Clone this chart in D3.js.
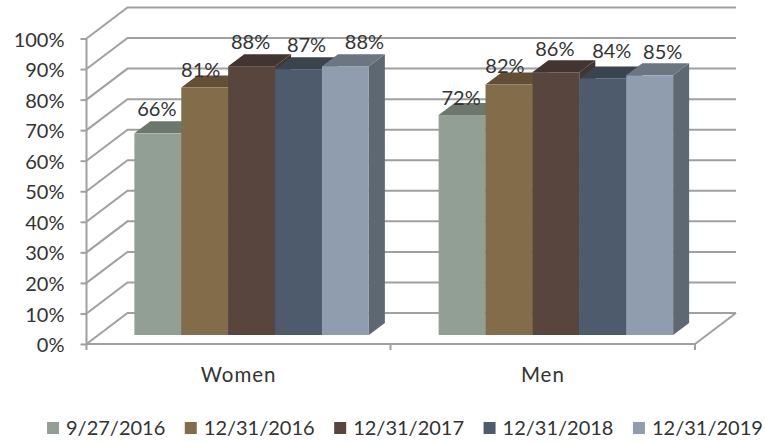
<!DOCTYPE html>
<html>
<head>
<meta charset="utf-8">
<script src="https://cdn.jsdelivr.net/npm/d3@7"></script>
<style>
  body { margin: 0; background: #fff; }
  text { font-family: Lato, "Noto Sans", sans-serif; fill: #333; }
  .tick-label { font-size: 20px; }
  .data-label { font-size: 20px; }
  .cat-label { font-size: 20.5px; letter-spacing: 1px; }
  .legend-label { font-size: 20px; }
</style>
</head>
<body>
<div id="chart-area"></div>
<script>
// values
let categories = ["Women", "Men"];
let dates = ["9/27/2016", "12/31/2016", "12/31/2017", "12/31/2018", "12/31/2019"];
let women = [0.66, 0.81, 0.88, 0.87, 0.88];
let men = [0.72, 0.82, 0.86, 0.84, 0.85];
let yTicks = [0, 0.1, 0.2, 0.3, 0.4, 0.5, 0.6, 0.7, 0.8, 0.9, 1];

let front = ["#929f94", "#836c4a", "#58463e", "#4d5b6c", "#909daf"];
let top_ = ["#6d776e", "#624f35", "#423430", "#39444f", "#6c7683"];
let side = ["#6d776e", "#624f35", "#423430", "#39444f", "#5d6873"];

// labels in the original sit off centre, [dx, dy] from the top middle of each bar
let womenNudge = [[-1, -17], [-4, -11], [-1, -17], [8, -17], [19, -17]];
let menNudge = [[-1, -10], [-4, -11], [-1, -16], [9, -20], [13, -16]];

let svg = d3.select("#chart-area").append("svg")
    .attr("width", 765)
    .attr("height", 442);

let grey = "#a0a0a0";

// fake 3d: the wall sits behind the axis plane, the bars between the two
let wall = {dx: 41, dy: -31};
let barPlane = {dx: 13, dy: -9};
let barDepth = {dx: 16, dy: -12};

let x = d3.scaleBand().domain(categories).range([86.5, 695]);
let y = d3.scaleLinear().domain([0, 1]).range([344, 38.5]);
let xInner = d3.scaleBand().domain(dates).range([0, 234.5]);

// Walls and grid
let gridG = svg.append("g").attr("fill", "none").attr("stroke", grey).attr("stroke-width", 2);

yTicks.forEach(t => {
    gridG.append("path")
        .attr("d", "M86.5," + y(t) + "L" + (86.5 + wall.dx) + "," + (y(t) + wall.dy)
            + "H" + (695 + wall.dx));
});
gridG.append("path")
    .attr("d", "M695," + y(0) + "L" + (695 + wall.dx) + "," + (y(0) + wall.dy));

// Bars
[women, men].forEach((vals, c) => {
    let g = svg.append("g");
    let offset = x(categories[c]) + (x.bandwidth() - xInner.range()[1]) / 2 + barPlane.dx;
    let w = xInner.bandwidth();
    let nudge = c === 0 ? womenNudge : menNudge;

    vals.forEach((v, i) => {
        let x0 = offset + xInner(dates[i]);
        let y0 = y(0) + barPlane.dy;
        let yTop = y(v) + barPlane.dy;

        // right side
        g.append("path")
            .attr("fill", side[i])
            .attr("d", "M" + (x0 + w) + "," + yTop
                + "l" + barDepth.dx + "," + barDepth.dy
                + "V" + (y0 + barDepth.dy)
                + "L" + (x0 + w) + "," + y0 + "Z");
        // top
        g.append("path")
            .attr("fill", top_[i])
            .attr("d", "M" + x0 + "," + yTop
                + "l" + barDepth.dx + "," + barDepth.dy
                + "h" + w
                + "l" + (-barDepth.dx) + "," + (-barDepth.dy) + "Z");
        // front
        g.append("rect")
            .attr("x", x0)
            .attr("y", yTop)
            .attr("width", w)
            .attr("height", y0 - yTop)
            .attr("fill", front[i]);
    });

    // labels go on after all the bars of the group
    vals.forEach((v, i) => {
        g.append("text")
            .attr("class", "data-label")
            .attr("x", offset + xInner(dates[i]) + w / 2 + nudge[i][0])
            .attr("y", y(v) + barPlane.dy + nudge[i][1])
            .attr("text-anchor", "middle")
            .text(d3.format(".0%")(v));
    });
});

// Axes
let yAxis = d3.axisLeft(y).tickValues(yTicks).tickFormat(d3.format(".0%")).tickSize(6).tickPadding(16);
let xAxis = d3.axisBottom(x).tickSize(0).tickPadding(23);

let yG = svg.append("g").attr("transform", "translate(86.5,0)").call(yAxis);
let xG = svg.append("g").attr("transform", "translate(0," + y(0) + ")").call(xAxis);

yG.selectAll(".tick text").attr("class", "tick-label").attr("dy", "0.38em");
xG.selectAll(".tick text").attr("class", "cat-label");
[yG, xG].forEach(a => {
    a.selectAll("path.domain, line").attr("stroke", grey).attr("stroke-width", 2);
    a.select("path.domain").attr("d", a === yG
        ? "M0," + y(1) + "V" + y(0)
        : "M86.5,0H695");
});

// category separators on the floor edge
xG.selectAll(".sep")
    .data([86.5, 390.5, 695])
    .enter().append("line")
    .attr("class", "sep")
    .attr("x1", d => d).attr("x2", d => d)
    .attr("y1", 0).attr("y2", 6)
    .attr("stroke", grey).attr("stroke-width", 2);

// Legend
let legendX = 47;
dates.forEach((d, i) => {
    svg.append("rect")
        .attr("x", legendX).attr("y", 422)
        .attr("width", 12).attr("height", 12)
        .attr("fill", front[i]);
    let label = svg.append("text")
        .attr("class", "legend-label")
        .attr("x", legendX + 19).attr("y", 435)
        .text(d);
    legendX += 19 + label.node().getComputedTextLength() + 19.5;
});
</script>
</body>
</html>
